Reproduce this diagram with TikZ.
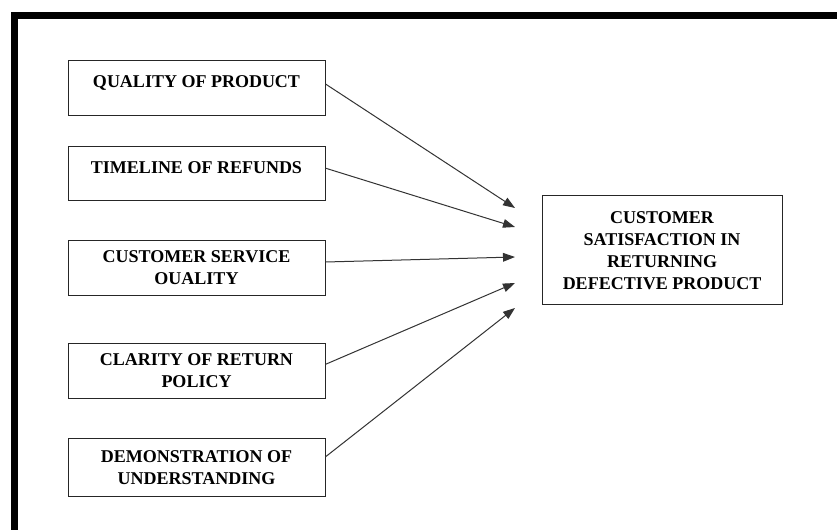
\documentclass[tikz,border=0pt]{standalone}
\usepackage{fontspec}
\setmainfont{Liberation Serif}
\usetikzlibrary{arrows.meta}

\begin{document}
\begin{tikzpicture}[x=0.75pt,y=-0.75pt,font=\fontsize{13.5}{16.5}\selectfont\bfseries]
    \tikzset{
        factor/.style={
            draw=black!85,
            line width=0.75pt,
            rectangle,
            inner sep=0pt,
            align=center,
            minimum width=192.75pt,
            minimum height=41pt
        },
        oneline/.style={
            text height=9pt,
            text depth=9pt
        },
        link/.style={
            draw=black!80,
            line width=0.75pt,
            -{Triangle[length=9pt,width=6.5pt]}
        }
    }

    \useasboundingbox (0,0) rectangle (837,530);
    \fill[white] (0,0) rectangle (837,530);
    \draw[line width=5.25pt,line join=miter] (14.5,530) -- (14.5,15.5) -- (837,15.5);

    \node[factor,oneline] (qp) at (196.5,88) {QUALITY OF PRODUCT};
    \node[factor,oneline] (tr) at (196.5,173.5) {TIMELINE OF REFUNDS};
    \node[factor] (csq) at (196.5,268) {CUSTOMER SERVICE\\OUALITY};
    \node[factor] (crp) at (196.5,371) {CLARITY OF RETURN\\POLICY};
    \node[factor,minimum height=44pt] (du) at (196.5,467.5) {DEMONSTRATION OF\\UNDERSTANDING};
    \node[factor,minimum width=180pt,minimum height=81.75pt] (cs) at (662,250.5)
        {CUSTOMER\\SATISFACTION IN\\RETURNING\\DEFECTIVE PRODUCT};

    \coordinate (t1) at (515,208);
    \coordinate (t2) at (515,227);
    \coordinate (t3) at (515,257);
    \coordinate (t4) at (515,283);
    \coordinate (t5) at (515,308);

    \draw[link] ([yshift=3pt] qp.east) -- (t1);
    \draw[link] ([yshift=4pt] tr.east) -- (t2);
    \draw[link] ([yshift=4.5pt] csq.east) -- (t3);
    \draw[link] ([yshift=5pt] crp.east) -- (t4);
    \draw[link] ([yshift=8pt] du.east) -- (t5);
\end{tikzpicture}
\end{document}
